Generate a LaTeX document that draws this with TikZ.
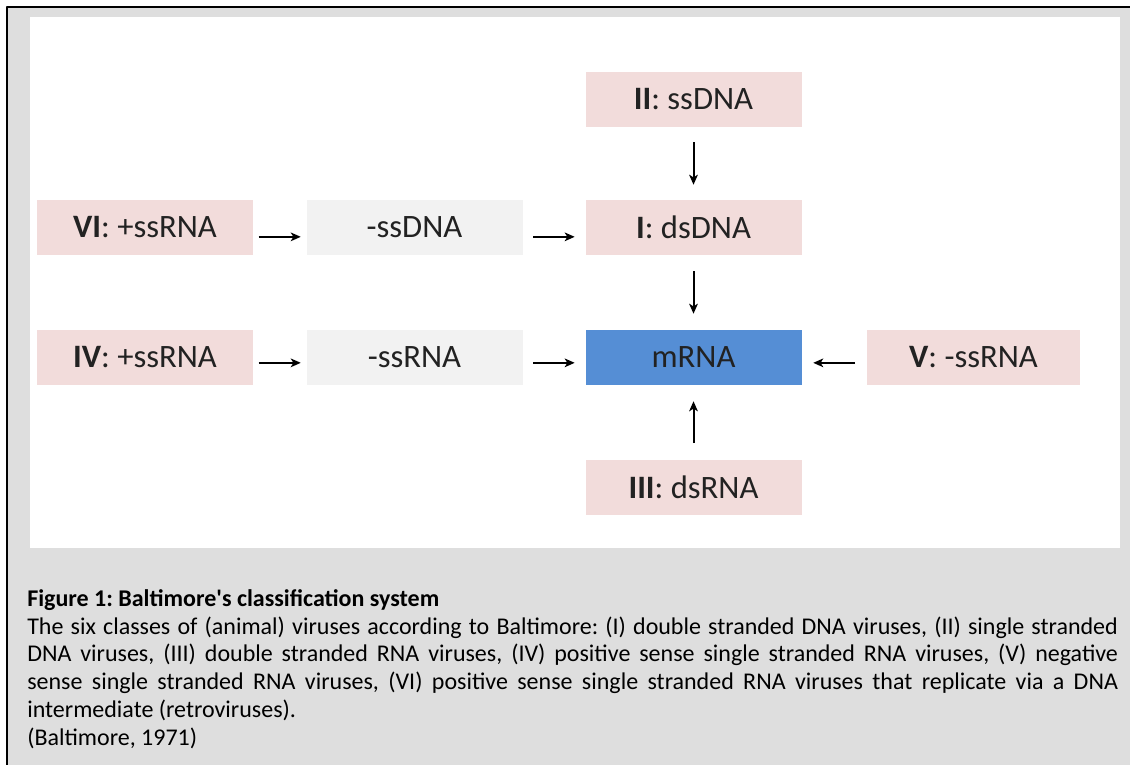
\documentclass[tikz,border=0pt]{standalone}
\usepackage{fontspec}
\usetikzlibrary{arrows.meta}
\setmainfont{Carlito}
\definecolor{clspink}{HTML}{F2DCDB}
\definecolor{steplight}{HTML}{F2F2F2}
\definecolor{mblue}{HTML}{558ED5}
\definecolor{framegray}{HTML}{DEDEDE}
\definecolor{txt}{HTML}{222222}
\begin{document}
\begin{tikzpicture}[x=0.75pt,y=-0.75pt,>={Stealth[length=7.5pt,width=6.5pt,inset=2pt]},line join=round,
	cls/.style={fill=clspink,minimum width=162pt,minimum height=41.25pt,inner sep=0pt,text=txt,font=\fontsize{24.5}{28}\selectfont},
	mid/.style={cls,fill=steplight},
	arr/.style={->,line width=1.5pt,shorten <=#1,shorten >=#1}]
	\useasboundingbox (0,0) rectangle (1130,764);
	% frame and white panel
	\fill[framegray] (7,7) rectangle (1150,780);
	\draw[line width=1.8pt] (7,1150) -- (7,7) -- (1150,7);
	\fill[white] (30,17) rectangle (1120,548);
	% boxes
	\node[cls] (ii) at (693.5,99.5) {\textbf{II}: ssDNA};
	\node[cls] (i) at (693.5,227.5) {\textbf{I}: dsDNA};
	\node[cls,fill=mblue] (mrna) at (693.5,357.5) {mRNA};
	\node[cls] (iii) at (693.5,487) {\textbf{III}: dsRNA};
	\node[cls] (vi) at (145,227.5) {\textbf{VI}: +ssRNA};
	\node[mid] (sdna) at (414.5,227.5) {-ssDNA};
	\node[cls] (iv) at (145,357.5) {\textbf{IV}: +ssRNA};
	\node[mid] (srna) at (414.5,357.5) {-ssRNA};
	\node[cls,minimum width=160pt] (v) at (973.5,357.5) {\textbf{V}: -ssRNA};
	% arrows
	\draw[arr=11.25pt] (ii) -- (i);
	\draw[arr=12pt] (i) -- (mrna);
	\draw[arr=12pt] (iii) -- (mrna);
	\draw[arr=4.1pt] ([yshift=-7pt]vi.east) -- ([yshift=-7pt]sdna.west);
	\draw[arr=7.9pt] ([yshift=-7pt]sdna.east) -- ([yshift=-7pt]i.west);
	\draw[arr=4.1pt] ([yshift=-4pt]iv.east) -- ([yshift=-4pt]srna.west);
	\draw[arr=7.9pt] ([yshift=-4pt]srna.east) -- ([yshift=-4pt]mrna.west);
	\draw[arr=8.6pt] ([yshift=-4pt]v.west) -- ([yshift=-4pt]mrna.east);
	% caption
	\node[anchor=north west,inner sep=0pt,text width=818pt,align=justify,
		font=\fontsize{18}{20.9}\selectfont] (cap) at (27,589)
	{\hyphenpenalty=10000\relax\frenchspacing
	\textbf{Figure 1: Baltimore\textquotesingle s classification system}\newline
	The six classes of (animal) viruses according to Baltimore: (I) double stranded DNA viruses, (II) single stranded\linebreak
	DNA viruses, (III) double stranded RNA viruses, (IV) positive sense single stranded RNA viruses, (V) negative\linebreak
	sense single stranded RNA viruses, (VI) positive sense single stranded RNA viruses that replicate via a DNA\linebreak
	intermediate (retroviruses).\newline
	(Baltimore, 1971)};
\end{tikzpicture}
\end{document}
